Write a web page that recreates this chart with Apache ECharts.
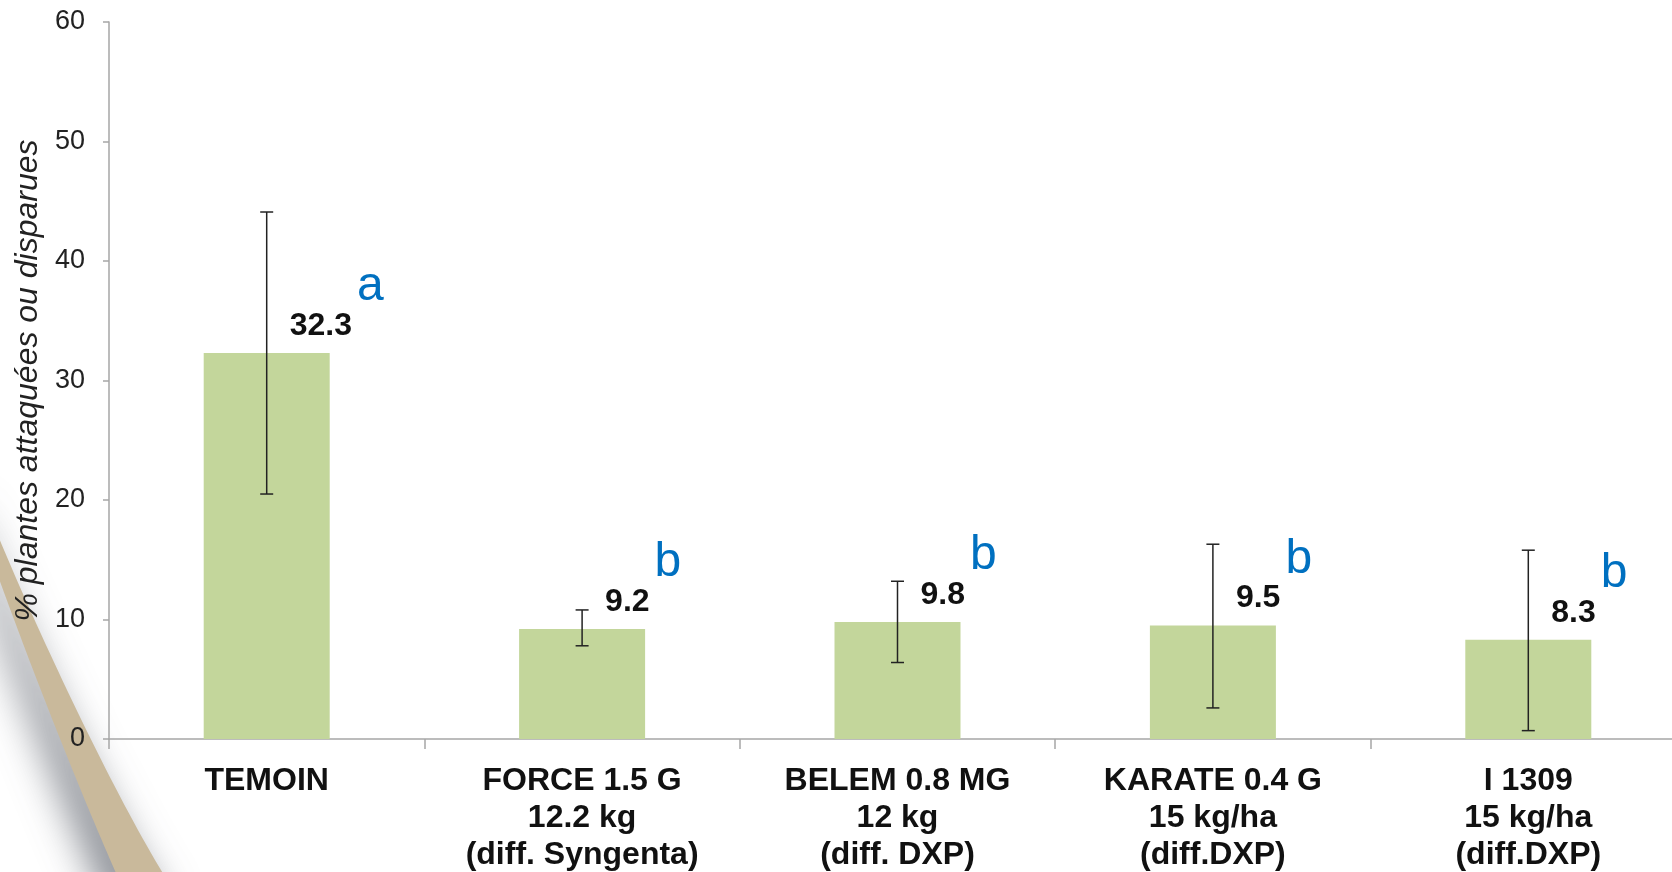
<!DOCTYPE html>
<html>
<head>
<meta charset="utf-8">
<style>
  html, body { margin: 0; padding: 0; background: #ffffff; }
  #chart { width: 1672px; height: 872px; }
</style>
<script src="https://cdn.jsdelivr.net/npm/echarts@6/dist/echarts.min.js"></script>
</head>
<body>
<div id="chart"></div>
<script>
// ---- data ----
const categories = [
  'TEMOIN',
  'FORCE 1.5 G\n12.2 kg\n(diff. Syngenta)',
  'BELEM 0.8 MG\n12 kg\n(diff. DXP)',
  'KARATE 0.4 G\n15 kg/ha\n(diff.DXP)',
  'I 1309\n15 kg/ha\n(diff.DXP)'
];
const values = [32.3, 9.2, 9.8, 9.5, 8.3];
const errLow = [20.5, 7.8, 6.4, 2.6, 0.7];
const errHigh = [44.1, 10.8, 13.2, 16.3, 15.8];
const letters = ['a', 'b', 'b', 'b', 'b'];
const yTicks = { min: 0, max: 60, interval: 10 };
const yTitle = '% plantes attaquées ou disparues';

const FONT = "'Liberation Sans', Arial, sans-serif";
const VALUE_FONT = "bold 32px 'Liberation Sans', Arial, sans-serif";
const chart = echarts.init(document.getElementById('chart'));

const errData = categories.map((c, i) => [i, errLow[i], errHigh[i]]);
const letterData = categories.map((c, i) => [i, values[i]]);

const measureCtx = document.createElement('canvas').getContext('2d');
function textWidth(str, font) { measureCtx.font = font; return measureCtx.measureText(str).width; }

// decorative slide swoosh (background only)
function bez(p0, p1, p2, p3, n) {
  const pts = [];
  for (let k = 0; k <= n; k++) {
    const t = k / n, u = 1 - t;
    pts.push([
      u*u*u*p0[0] + 3*u*u*t*p1[0] + 3*u*t*t*p2[0] + t*t*t*p3[0],
      u*u*u*p0[1] + 3*u*u*t*p1[1] + 3*u*t*t*p2[1] + t*t*t*p3[1]
    ]);
  }
  return pts;
}
const swoosh = bez([-20, 491], [20, 595], [120, 812], [180, 900], 48)
  .concat(bez([128, 900], [83, 801], [20, 641], [-20, 525], 48));

chart.setOption({
  backgroundColor: '#ffffff',
  animation: false,
  textStyle: { fontFamily: FONT },
  graphic: [
    {
      type: 'polygon',
      z: -10,
      silent: true,
      shape: { points: swoosh },
      style: {
        fill: '#c9b99b',
        shadowBlur: 40,
        shadowColor: 'rgba(70,75,85,0.75)',
        shadowOffsetX: -14,
        shadowOffsetY: 10
      }
    }
  ],
  grid: { left: 109, top: 22, width: 1577, height: 717, outerBoundsMode: 'none', containLabel: false },
  xAxis: {
    type: 'category',
    data: categories,
    axisLine: { lineStyle: { color: '#a6a6a6', width: 1.5 } },
    axisTick: { show: true, length: 10, lineStyle: { color: '#a6a6a6', width: 1.5 } },
    axisLabel: {
      interval: 0,
      margin: 24,
      color: '#111',
      fontSize: 32,
      fontWeight: 'bold',
      lineHeight: 37,
      fontFamily: FONT
    }
  },
  yAxis: {
    type: 'value',
    min: yTicks.min,
    max: yTicks.max,
    interval: yTicks.interval,
    name: yTitle,
    nameLocation: 'middle',
    nameGap: 60,
    nameTextStyle: { fontStyle: 'italic', fontSize: 32, color: '#222', fontFamily: FONT },
    axisLine: { show: true, lineStyle: { color: '#a6a6a6', width: 1.5 } },
    axisTick: { show: true, length: 6, lineStyle: { color: '#a6a6a6', width: 1.5 } },
    splitLine: { show: false },
    axisLabel: { margin: 24, fontSize: 27, color: '#222', fontFamily: FONT }
  },
  series: [
    {
      type: 'bar',
      data: values,
      barWidth: 126,
      itemStyle: { color: '#c3d69b' },
      label: {
        show: true,
        position: 'top',
        distance: 10,
        align: 'left',
        offset: [23, 0],
        lineHeight: 34,
        fontSize: 32,
        fontWeight: 'bold',
        color: '#111',
        fontFamily: FONT
      },
      z: 2
    },
    {
      type: 'custom',
      data: errData,
      z: 5,
      encode: { x: 0, y: [1, 2] },
      renderItem: (params, api) => {
        const lo = api.coord([api.value(0), api.value(1)]);
        const hi = api.coord([api.value(0), api.value(2)]);
        const x = lo[0];
        const w = 6.5;
        const st = { stroke: '#222', lineWidth: 1.5 };
        return {
          type: 'group',
          children: [
            { type: 'line', shape: { x1: x, y1: hi[1], x2: x, y2: lo[1] }, style: st },
            { type: 'line', shape: { x1: x - w, y1: hi[1], x2: x + w, y2: hi[1] }, style: st },
            { type: 'line', shape: { x1: x - w, y1: lo[1], x2: x + w, y2: lo[1] }, style: st }
          ]
        };
      }
    },
    {
      type: 'custom',
      data: letterData,
      z: 6,
      encode: { x: 0, y: 1 },
      renderItem: (params, api) => {
        const i = api.value(0);
        const p = api.coord([i, api.value(1)]);
        const vw = textWidth(String(values[i]), VALUE_FONT);
        return {
          type: 'text',
          x: p[0] + 23 + vw + 5,
          y: p[1] - 66,
          style: {
            text: letters[i],
            fill: '#0070c0',
            fontSize: 48,
            fontFamily: FONT,
            textAlign: 'left',
            textVerticalAlign: 'middle'
          }
        };
      }
    }
  ]
});
</script>
</body>
</html>
